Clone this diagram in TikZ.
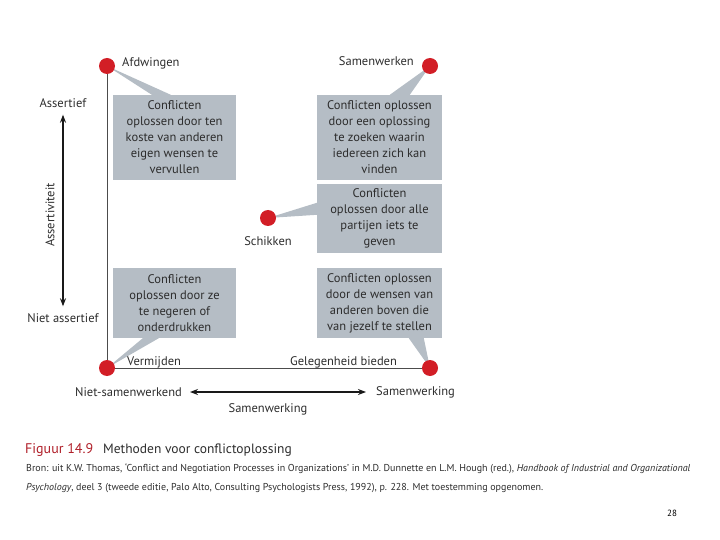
\documentclass[tikz,border=0pt]{standalone}
\usepackage{fontspec}
\setmainfont{PT Sans}
\usetikzlibrary{arrows.meta,calc}
\definecolor{boxgray}{RGB}{181,189,197}
\definecolor{dotred}{RGB}{210,30,38}
\definecolor{txt}{RGB}{45,45,45}
\definecolor{figred}{RGB}{176,32,42}
\begin{document}
\begin{tikzpicture}[x=1pt,y=-1pt,
  infobox/.style={fill=boxgray, inner sep=0pt, align=center, text=txt,
    font=\fontsize{12.5}{16}\selectfont},
  dotnode/.style={circle, fill=dotred, minimum size=16pt, inner sep=0pt},
  lbl/.style={font=\fontsize{12.5}{15}\selectfont, text=txt, inner sep=0pt},
  axisline/.style={draw=black!70, line width=1pt},
  dblarrow/.style={{Stealth[length=8pt,width=6pt]}-{Stealth[length=8pt,width=6pt]}, line width=1.4pt, draw=black!90},
  wedge/.style={fill=boxgray}
]
\useasboundingbox (0,0) rectangle (720,540);

% dots (positions)
\coordinate (p1) at (107,66);
\coordinate (p2) at (430,66);
\coordinate (p3) at (268,218);
\coordinate (p4) at (107,368);
\coordinate (p5) at (430,368);

% axes lines
\draw[axisline] (p1) -- (p4) -- (p5);

% boxes
\node[infobox, minimum width=123pt, minimum height=85pt] (b1) at (174.5,137.5)
  {Conflicten\\oplossen door ten\\koste van anderen\\eigen wensen te\\vervullen};
\node[infobox, minimum width=125pt, minimum height=85pt] (b2) at (379.5,137.5)
  {Conflicten oplossen\\door een oplossing\\te zoeken waarin\\iedereen zich kan\\vinden};
\node[infobox, minimum width=125pt, minimum height=69pt] (b3) at (379.5,218.5)
  {Conflicten\\oplossen door alle\\partijen iets te\\geven};
\node[infobox, minimum width=123pt, minimum height=70pt] (b4) at (174.5,303)
  {Conflicten\\oplossen door ze\\te negeren of\\onderdrukken};
\node[infobox, minimum width=125pt, minimum height=70pt] (b5) at (379.5,303)
  {Conflicten oplossen\\door de wensen van\\anderen boven die\\van jezelf te stellen};

% wedges (callout pointers)
\fill[wedge] (p1) -- ($(b1.north west)+(39,0)$) -- ($(b1.north west)+(58,0)$) -- cycle;
\fill[wedge] (p2) -- ($(b2.north west)+(73,0)$) -- ($(b2.north west)+(93,0)$) -- cycle;
\fill[wedge] (p3) -- ($(b3.north west)+(0,19)$) -- ($(b3.north west)+(0,31)$) -- cycle;
\fill[wedge] (p4) -- ($(b4.south west)+(30,0)$) -- ($(b4.south west)+(46,0)$) -- cycle;
\fill[wedge] (p5) -- ($(b5.south west)+(92,0)$) -- ($(b5.south west)+(107,0)$) -- cycle;

% dots
\node[dotnode] (d1) at (p1) {};
\node[dotnode] (d2) at (p2) {};
\node[dotnode] (d3) at (p3) {};
\node[dotnode] (d4) at (p4) {};
\node[dotnode] (d5) at (p5) {};

% dot labels
\node[lbl, anchor=west] (l1) at (122,63) {Afdwingen};
\node[lbl, anchor=east] (l2) at (414,61) {Samenwerken};
\node[lbl] (l3) at (268,241) {Schikken};
\node[lbl, anchor=west] (l4) at (127,362) {Vermijden};
\node[lbl, anchor=west] (l5) at (290,362) {Gelegenheid bieden};

% vertical axis
\node[lbl] (at) at (63,103) {Assertief};
\node[lbl] (ab) at (63,318) {Niet assertief};
\draw[dblarrow] ($(at.south)+(0,7)$) coordinate (vt) -- ($(ab.north)+(0,-7)$) coordinate (vb);
\node[lbl, rotate=90] (av) at (50,215) {Assertiviteit};

% horizontal axis
\node[lbl, anchor=east] (hl) at (182,392) {Niet-samenwerkend};
\node[lbl, anchor=west] (hr) at (376,392) {Samenwerking};
\draw[dblarrow] ($(hl.east)+(8,0)$) coordinate (hla) -- ($(hr.west)+(-10,0)$) coordinate (hra);
\node[lbl] (hm) at (268,409) {Samenwerking};

% caption
\node[anchor=west, inner sep=0pt, font=\fontsize{14}{16}\selectfont, text=figred] (fig) at (25,450) {Figuur 14.9};
\node[anchor=west, inner sep=0pt, font=\fontsize{13.5}{16}\selectfont, text=txt] (ttl) at (103,450) {Methoden voor conflictoplossing};
\node[anchor=west, inner sep=0pt, font=\fontsize{10}{12}\selectfont, text=txt] (src1) at (26,469)
  {Bron: uit K.W. Thomas, ‘Conflict and Negotiation Processes in Organizations’ in M.D. Dunnette en L.M. Hough (red.), \textit{Handbook of Industrial and Organizational}};
\node[anchor=west, inner sep=0pt, font=\fontsize{10}{12}\selectfont, text=txt] (src2) at (26,488)
  {\textit{Psychology}, deel 3 (tweede editie, Palo Alto, Consulting Psychologists Press, 1992), p. 228. Met toestemming opgenomen.};

% page number
\node[inner sep=0pt, font=\fontsize{9}{11}\selectfont] (pg) at (672,513) {28};
\end{tikzpicture}
\end{document}
